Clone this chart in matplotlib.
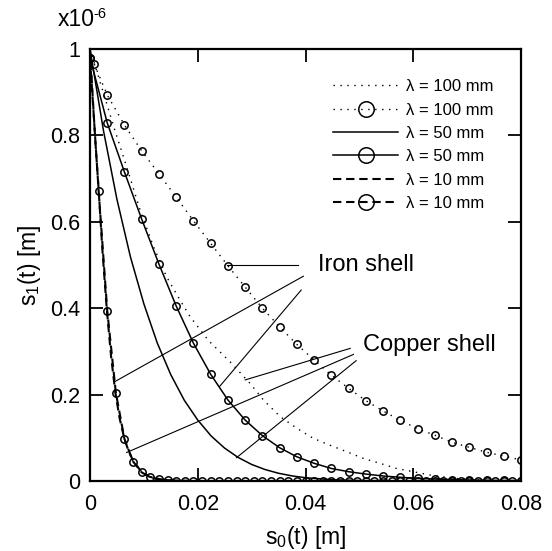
import matplotlib
matplotlib.use("Agg")
import matplotlib.pyplot as plt

plt.rcParams['font.family'] = ['Liberation Sans', 'DejaVu Sans']
plt.rcParams['mathtext.fontset'] = 'custom'
plt.rcParams['mathtext.rm'] = 'Liberation Sans'
plt.rcParams['mathtext.it'] = 'Liberation Sans:italic'

# ---------------- data (values in units of 1e-6 m on y) ----------------
# lambda = 100 mm, line only (dotted)
x100_line = [0, 0.0046, 0.0068, 0.0093, 0.0118, 0.0142, 0.0167, 0.0186, 0.022, 0.026,
             0.0297, 0.0322, 0.0353, 0.0384, 0.0414, 0.0445, 0.0476, 0.0507, 0.0538,
             0.0569, 0.060, 0.0631, 0.0662, 0.0693, 0.074, 0.08]
y100_line = [1.0, 0.8125, 0.7275, 0.627, 0.542, 0.473, 0.419, 0.380, 0.325, 0.276,
             0.226, 0.1875, 0.149, 0.122, 0.099, 0.083, 0.068, 0.0525, 0.041,
             0.029, 0.0215, 0.0139, 0.0086, 0.004, 0.001, 0.0]

# lambda = 100 mm, with markers
x100_mark = [0.0008, 0.0032, 0.0064, 0.0096, 0.0128, 0.016, 0.0192, 0.0224, 0.0256,
             0.0288, 0.032, 0.0352, 0.0384, 0.0416, 0.0448, 0.048, 0.0512, 0.0544,
             0.0576, 0.0608, 0.064, 0.0672, 0.0704, 0.0736, 0.0768, 0.08]
y100_mark = [0.965, 0.8935, 0.824, 0.764, 0.711, 0.657, 0.6025, 0.550, 0.498,
             0.449, 0.400, 0.357, 0.316, 0.280, 0.245, 0.2145, 0.186, 0.162,
             0.1405, 0.121, 0.106, 0.0896, 0.078, 0.0664, 0.0579, 0.0486]

# lambda = 50 mm, line only (solid)
x50_line = [0, 0.0025, 0.005, 0.0075, 0.01, 0.0125, 0.015, 0.0175, 0.02, 0.0225,
            0.025, 0.0275, 0.03, 0.0325, 0.035, 0.0375, 0.04, 0.045, 0.05, 0.06, 0.08]
y50_line = [1.0, 0.811, 0.652, 0.519, 0.41, 0.319, 0.246, 0.187, 0.141, 0.104,
            0.076, 0.0545, 0.0383, 0.0265, 0.0179, 0.0118, 0.0076, 0.0029, 0.001,
            0.0, 0.0]

# lambda = 50 mm, with markers
x50_mark = [0, 0.0032, 0.0064, 0.0096, 0.0128, 0.016, 0.0192, 0.0224, 0.0256,
            0.0288, 0.032, 0.0352, 0.0384, 0.0416, 0.0448, 0.048, 0.0512, 0.0544,
            0.0576, 0.0608, 0.064, 0.0672, 0.0704, 0.0736, 0.0768, 0.08]
y50_mark = [0.98, 0.829, 0.715, 0.606, 0.502, 0.405, 0.319, 0.247, 0.1875,
            0.141, 0.105, 0.077, 0.056, 0.041, 0.029, 0.0215, 0.016, 0.0116,
            0.0086, 0.006, 0.0045, 0.0033, 0.0024, 0.0017, 0.0012, 0.0009]

# lambda = 10 mm, line only (dashed)
x10_line = [0, 0.0005, 0.001, 0.0016, 0.0023, 0.0031, 0.0039, 0.0047, 0.0055,
            0.0064, 0.0072, 0.008, 0.0095, 0.011, 0.013, 0.016, 0.02, 0.08]
y10_line = [1.0, 0.89, 0.785, 0.675, 0.535, 0.40, 0.29, 0.205, 0.145,
            0.097, 0.068, 0.047, 0.022, 0.010, 0.004, 0.001, 0.0, 0.0]

# lambda = 10 mm, with markers
x10_mark = [0, 0.0016, 0.0032, 0.0048, 0.0064, 0.008, 0.0096, 0.0112, 0.0128, 0.0144,
            0.016, 0.0176, 0.0192, 0.0208, 0.0224, 0.024, 0.0256, 0.0272, 0.0288,
            0.0304, 0.032, 0.0336, 0.0352, 0.0368, 0.0384, 0.04, 0.0416, 0.0432,
            0.0448, 0.0464, 0.048, 0.0496, 0.0512, 0.0528, 0.0544, 0.056, 0.0576,
            0.0592, 0.0608, 0.0624, 0.064, 0.0656, 0.0672, 0.0688, 0.0704, 0.072,
            0.0736, 0.0752, 0.0768, 0.0784, 0.08]
y10_mark = [0.98, 0.672, 0.394, 0.204, 0.097, 0.045, 0.020, 0.0086, 0.004, 0.002,
            0.001] + [0.0] * 40

xticks = [0, 0.02, 0.04, 0.06, 0.08]
xticklabels = ['0', '0.02', '0.04', '0.06', '0.08']
yticks = [0, 0.2, 0.4, 0.6, 0.8, 1.0]
yticklabels = ['0', '0.2', '0.4', '0.6', '0.8', '1']
legend_labels = ['λ = 100 mm', 'λ = 100 mm', 'λ = 50 mm', 'λ = 50 mm',
                 'λ = 10 mm', 'λ = 10 mm']

# ---------------- figure ----------------
fig = plt.figure(figsize=(5.52, 5.51), dpi=100)
ax = fig.add_axes([90 / 552, 1 - 481 / 551, 431 / 552, 432 / 551])

dot = (0, (1, 4))
dash = (0, (4, 2.3))
mk = dict(marker='o', markersize=5.3, markerfacecolor='none',
          markeredgecolor='black', markeredgewidth=1.1)

h1, = ax.plot(x100_line, y100_line, color='black', lw=1.0, linestyle=dot)
h2, = ax.plot(x100_mark, y100_mark, color='black', lw=1.0, linestyle=dot, **mk)
h3, = ax.plot(x50_line, y50_line, color='black', lw=1.1, linestyle='-')
h4, = ax.plot(x50_mark, y50_mark, color='black', lw=1.1, linestyle='-', **mk)
h5, = ax.plot(x10_line, y10_line, color='black', lw=1.5, linestyle=dash)
h6, = ax.plot(x10_mark, y10_mark, color='black', lw=1.5, linestyle=dash, **mk)

ax.set_xlim(0, 0.08)
ax.set_ylim(0, 1.0)
ax.set_xticks(xticks)
ax.set_xticklabels(xticklabels)
ax.set_yticks(yticks)
ax.set_yticklabels(yticklabels)
ax.tick_params(direction='in', length=9.5, width=1.3, top=True, right=True,
               labelsize=15.5, pad=7)
ax.tick_params(axis='x', pad=9)
for s in ax.spines.values():
    s.set_linewidth(1.6)

ax.set_xlabel(r's$_\mathregular{0}$(t) [m]', fontsize=16.5, labelpad=7)
ax.set_ylabel(r's$_\mathregular{1}$(t) [m]', fontsize=16.5, labelpad=5)
fig.text(58 / 552, 1 - 19 / 551, 'x10', fontsize=16.5, ha='left', va='center')
fig.text(93.5 / 552, 1 - 14 / 551, '-6', fontsize=10.5, ha='left', va='center')

# annotations
lw_a = 0.8
ax.plot([0.0254, 0.0386], [0.50, 0.50], color='black', lw=lw_a)
ax.plot([0.0046, 0.0396], [0.23, 0.474], color='black', lw=lw_a)
ax.plot([0.0240, 0.0392], [0.218, 0.442], color='black', lw=lw_a)
ax.text(0.0424, 0.50, 'Iron shell', fontsize=17, ha='left', va='center')

ax.plot([0.0288, 0.0483], [0.234, 0.307], color='black', lw=lw_a)
ax.plot([0.0068, 0.0489], [0.066, 0.293], color='black', lw=lw_a)
ax.plot([0.0272, 0.0494], [0.054, 0.2785], color='black', lw=lw_a)
ax.text(0.0507, 0.315, 'Copper shell', fontsize=17, ha='left', va='center')

leg = ax.legend([h1, h2, h3, h4, h5, h6], legend_labels, loc='upper right',
                bbox_to_anchor=(0.972, 0.9646), frameon=False, fontsize=12,
                handlelength=3.9, handletextpad=0.48, labelspacing=0.5,
                numpoints=1, markerscale=2.1)

fig.savefig('out.png', dpi=100)
